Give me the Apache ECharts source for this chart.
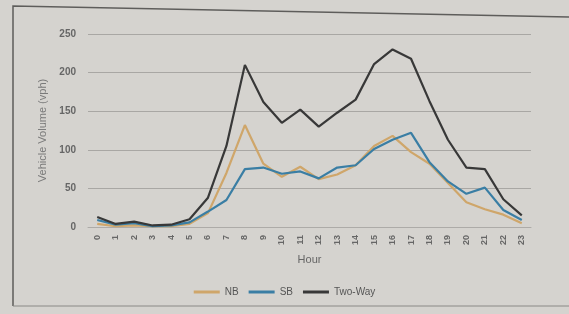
<!DOCTYPE html>
<html>
<head>
<meta charset="utf-8">
<script src="https://cdn.jsdelivr.net/npm/echarts@6/dist/echarts.min.js"></script>
<style>
  html, body { margin: 0; padding: 0; background: #d5d3cf; }
  #chart { width: 569px; height: 314px; }
</style>
</head>
<body>
<div id="chart"></div>
<script>
// hourly volumes
var hours = ['0', '1', '2', '3', '4', '5', '6', '7', '8', '9', '10', '11',
  '12', '13', '14', '15', '16', '17', '18', '19', '20', '21', '22', '23']
var nb = [4, 1, 2, 1, 1, 4, 18, 70, 132, 82, 65, 78, 62, 68, 80, 105, 118, 97, 82, 57, 32, 23, 16, 5]
var sb = [9, 3, 5, 1, 2, 6, 20, 35, 75, 77, 69, 72, 63, 77, 80, 101, 113, 122, 84, 59, 43, 51, 22, 9]
var twoWay = [13, 4, 7, 2, 3, 10, 38, 105, 210, 162, 135, 152, 130, 148, 165, 211, 230, 218, 163, 113, 77, 75, 36, 15]
var yTicks = [0, 50, 100, 150, 200, 250]

var chart = echarts.init(document.getElementById('chart'))

function lineSeries (name, data, color) {
  return {
    name: name,
    type: 'line',
    data: data,
    symbol: 'none',
    lineStyle: { color: color, width: 2.2 },
    itemStyle: { color: color }
  }
}

chart.setOption({
  backgroundColor: '#d5d3cf',
  textStyle: { fontFamily: 'Liberation Sans, Arial, sans-serif' },
  graphic: [{
    type: 'polyline',
    shape: { points: [[13, 306], [13, 6], [569, 17]] },
    style: { stroke: '#5e5d5b', lineWidth: 1.5, fill: null }
  }, {
    type: 'line',
    shape: { x1: 13, y1: 306, x2: 569, y2: 306 },
    style: { stroke: '#8a8986', lineWidth: 1 }
  }],
  grid: { left: 88, right: 38, top: 34, bottom: 87 },
  legend: {
    data: ['NB', 'SB', 'Two-Way'],
    left: 'center',
    top: 282,
    icon: 'rect',
    itemWidth: 26,
    itemHeight: 3,
    itemGap: 10,
    textStyle: { color: '#555', fontSize: 10 }
  },
  xAxis: {
    type: 'category',
    data: hours,
    name: 'Hour',
    nameLocation: 'middle',
    nameGap: 27,
    nameTextStyle: { color: '#666', fontSize: 11 },
    axisLine: { lineStyle: { color: '#adaba8' } },
    axisTick: { show: false },
    axisLabel: { rotate: 90, color: '#666', fontSize: 9, fontWeight: 'bold', interval: 0 }
  },
  yAxis: {
    type: 'value',
    min: 0,
    max: yTicks[yTicks.length - 1],
    interval: 50,
    name: 'Vehicle Volume (vph)',
    nameLocation: 'middle',
    nameGap: 32,
    nameTextStyle: { color: '#7a7a7a', fontSize: 11 },
    axisLine: { show: false },
    axisTick: { show: false },
    axisLabel: { color: '#666', fontSize: 10, fontWeight: 'bold', margin: 12 },
    splitLine: { lineStyle: { color: '#a9a7a4', width: 1 } }
  },
  series: [
    lineSeries('NB', nb, '#cfa66a'),
    lineSeries('SB', sb, '#3a7ea4'),
    lineSeries('Two-Way', twoWay, '#383838')
  ]
})
</script>
</body>
</html>
